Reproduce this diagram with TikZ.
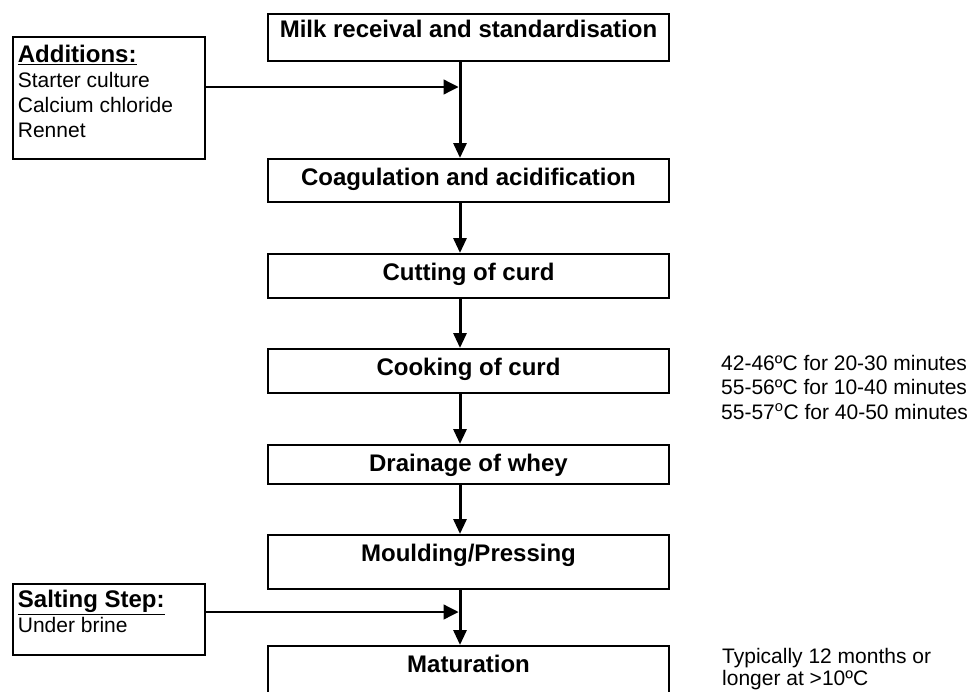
\documentclass[tikz,border=0pt]{standalone}
\usepackage{fontspec}
\setmainfont{Liberation Sans}
\usetikzlibrary{arrows.meta,calc}

\begin{document}
\begin{tikzpicture}[x=1pt,y=-1pt,
    stage/.style={draw,line width=1.8pt,anchor=north,minimum width=401pt,
      inner xsep=0pt,inner ysep=0pt,text height=27pt,
      font=\fontsize{24}{28}\selectfont\bfseries},
    side/.style={draw,line width=1.8pt,anchor=north west,inner xsep=5pt,
      inner ysep=0pt,font=\fontsize{21}{24.7}\selectfont},
    note/.style={anchor=base west,inner sep=0pt,
      font=\fontsize{21}{24.7}\selectfont},
    flow/.style={line width=3pt,-{Triangle[length=15pt,width=13pt]}},
    feed/.style={line width=1.3pt,shorten >=1.5pt,
      -{Triangle[length=15pt,width=15pt]}}]
  \useasboundingbox (0,0) rectangle (974,691);
  \clip (0,0) rectangle (974,691);
  \coordinate (spine) at (460,0);

  % process stages
  \node[stage,text height=24pt,text depth=23pt] (milk) at (468.5,12.7)
    {Milk receival and standardisation};
  \node[stage,text depth=16pt] (coag) at (468.5,158) {Coagulation and acidification};
  \node[stage,text depth=17pt] (cut) at (468.5,253) {Cutting of curd};
  \node[stage,text depth=17pt] (cook) at (468.5,348) {Cooking of curd};
  \node[stage,text depth=12pt] (drain) at (468.5,444) {Drainage of whey};
  \node[stage,text depth=27pt] (mould) at (468.5,534) {Moulding/Pressing};
  \node[stage,text depth=50pt] (mat) at (468.5,645) {Maturation};

  \foreach \a/\b in {milk/coag,coag/cut,cut/cook,cook/drain,drain/mould,mould/mat}
    \draw[flow] (\a.south -| spine) -- (\b.north -| spine);

  % inputs on the left
  \node[side,text height=26pt,text depth=96pt] (add) at (12,36)
    {\begin{tabular}[t]{@{}p{182pt}@{}}
      \underline{\fontsize{24}{28}\selectfont\bfseries Additions:}\\
      Starter culture\\
      Calcium chloride\\
      Rennet
    \end{tabular}};
  \node[side,text height=24pt,text depth=47pt] (salt) at (12,583)
    {\begin{tabular}[t]{@{}p{182pt}@{}}
      \underline{\fontsize{24}{28}\selectfont\bfseries Salting Step:}\\
      Under brine
    \end{tabular}};

  \coordinate (addout) at ($(add.north east)+(0,51)$);
  \coordinate (saltout) at ($(salt.north east)+(0,29)$);
  \draw[feed] (addout) -- (addout -| spine);
  \draw[feed] (saltout) -- (saltout -| spine);

  % conditions on the right
  \node[note] (cooknote) at (721,370)
    {\begin{tabular}[t]{@{}l@{}}
      42-46ºC for 20-30 minutes\\
      55-56ºC for 10-40 minutes\\
      55-57\textsuperscript{o}C for 40-50 minutes
    \end{tabular}};
  \node[note] (matnote) at (722,663)
    {\begin{tabular}[t]{@{}l@{}}
      Typically 12 months or\\[-2.7pt]
      longer at >10ºC
    \end{tabular}};
\end{tikzpicture}
\end{document}
